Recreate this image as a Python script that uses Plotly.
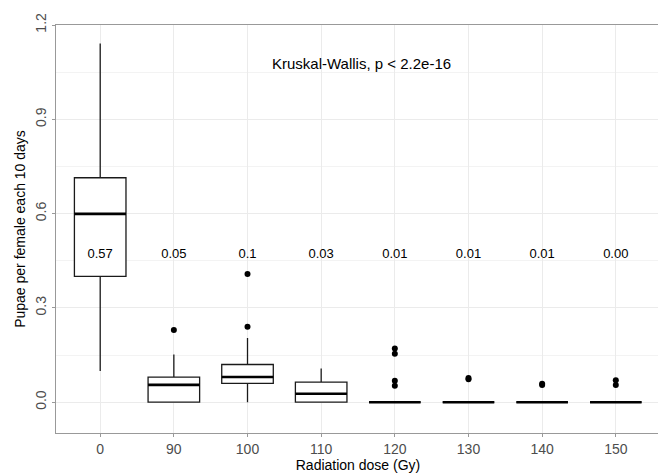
import plotly.graph_objects as go

doses = ["0", "90", "100", "110", "120", "130", "140", "150"]
q1 = [0.400, 0.0, 0.060, 0.0, 0.0, 0.0, 0.0, 0.0]
median = [0.599, 0.055, 0.080, 0.027, 0.0, 0.0, 0.0, 0.0]
q3 = [0.714, 0.080, 0.120, 0.064, 0.0, 0.0, 0.0, 0.0]
lower_whisker = [0.099, 0.0, 0.0, 0.0, 0.0, 0.0, 0.0, 0.0]
upper_whisker = [1.141, 0.152, 0.204, 0.107, 0.0, 0.0, 0.0, 0.0]
mean_labels = ["0.57", "0.05", "0.1", "0.03", "0.01", "0.01", "0.01", "0.00"]

outlier_dose = ["90", "100", "100", "120", "120", "120", "120", "130", "130", "140", "140", "150", "150"]
outlier_val = [0.230, 0.240, 0.408, 0.171, 0.154, 0.068, 0.052, 0.073, 0.077, 0.055, 0.059, 0.070, 0.055]

label_y = 0.47
test_text = "Kruskal-Wallis, p < 2.2e-16"

font = "Liberation Sans, Arial, sans-serif"
box_w = 0.7

fig = go.Figure()
fig.add_trace(go.Box(
    x=doses, q1=q1, median=median, q3=q3,
    lowerfence=lower_whisker, upperfence=upper_whisker,
    width=box_w, whiskerwidth=0,
    fillcolor="white", line=dict(color="#1a1a1a", width=1.3),
    boxpoints=False, showlegend=False, hoverinfo="skip",
))
fig.add_trace(go.Scatter(
    x=outlier_dose, y=outlier_val, mode="markers",
    marker=dict(color="black", size=6), showlegend=False,
))
fig.add_trace(go.Scatter(
    x=doses, y=[label_y] * len(doses), mode="text", text=mean_labels,
    textfont=dict(family=font, size=13, color="black"), showlegend=False,
))

# thicker median lines (ggplot style)
for i, m in enumerate(median):
    fig.add_shape(type="line", xref="x", yref="y",
                  x0=i - box_w / 2, x1=i + box_w / 2, y0=m, y1=m,
                  line=dict(color="black", width=2.6))

fig.add_annotation(x=3.55, y=1.077, xref="x", yref="y", text=test_text,
                   showarrow=False, font=dict(family=font, size=15, color="black"))

# page body has an 8px margin, so the figure is sized/placed to compensate
fig.update_layout(
    width=658, height=466,
    margin=dict(l=48, r=5, t=11, b=41),
    plot_bgcolor="white", paper_bgcolor="white",
    font=dict(family=font, size=14, color="#4d4d4d"),
)
fig.update_xaxes(
    type="category", categoryorder="array", categoryarray=doses,
    range=[-0.6, 7.6],
    showgrid=True, gridcolor="#ebebeb", gridwidth=1,
    showline=True, linecolor="#999999", linewidth=1, mirror=True,
    ticks="outside", ticklen=3, tickcolor="#999999",
    tickfont=dict(family=font, size=14, color="#4d4d4d"),
    title=dict(text="Radiation dose (Gy)", font=dict(family=font, size=14, color="black"), standoff=2),
    zeroline=False,
)
fig.update_yaxes(
    range=[-0.098, 1.2],
    tickvals=[0.0, 0.3, 0.6, 0.9, 1.2], ticktext=["0.0", "0.3", "0.6", "0.9", "1.2"],
    tickangle=-90, ticklabeloverflow="allow",
    showgrid=True, gridcolor="#ebebeb", gridwidth=1,
    minor=dict(tickvals=[0.15, 0.45, 0.75, 1.05], showgrid=True, gridcolor="#f3f3f3", gridwidth=1),
    showline=True, linecolor="#999999", linewidth=1, mirror=True,
    ticks="outside", ticklen=3, tickcolor="#999999",
    tickfont=dict(family=font, size=14, color="#4d4d4d"),
    title=dict(text="Pupae per female each 10 days", font=dict(family=font, size=14, color="black"), standoff=4),
    zeroline=False,
)
fig.write_html("out.html")
